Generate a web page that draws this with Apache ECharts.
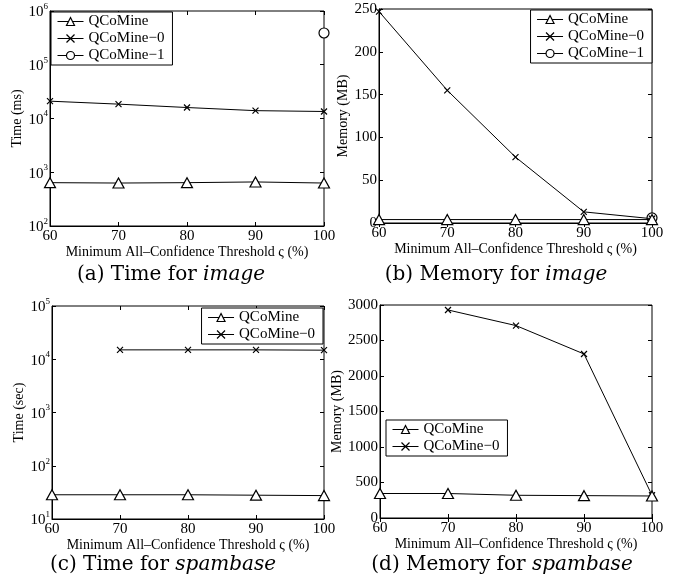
<!DOCTYPE html>
<html>
<head>
<meta charset="utf-8">
<script src="https://cdn.jsdelivr.net/npm/echarts@6/dist/echarts.min.js"></script>
<style>
  html, body { margin: 0; padding: 0; background: #fff; }
  #chart { width: 683px; height: 583px; }
</style>
</head>
<body>
<div id="chart"></div>
<script>
var thresholds = [60, 70, 80, 90, 100];
var seriesNames = ['QCoMine', 'QCoMine\u22120', 'QCoMine\u22121'];

// (a) time for image, ms
var timeImageQ = [640, 630, 640, 660, 630];
var timeImageQ0 = [21000, 18500, 16000, 14000, 13500];
var timeImageQ1 = [null, null, null, null, 390000];
// (b) memory for image, MB
var memImageQ = [4, 4, 4, 4, 4];
var memImageQ0 = [247, 155, 77, 13, 5];
var memImageQ1 = [null, null, null, null, 6];
// (c) time for spambase, sec
var timeSpamQ = [28.5, 28.5, 28.5, 28, 27.5];
var timeSpamQ0 = [null, 15000, 15000, 15000, 14800];
// (d) memory for spambase, MB
var memSpamQ = [345, 345, 320, 315, 310];
var memSpamQ0 = [null, 2930, 2710, 2310, 320];

var serif = 'Liberation Serif';
var xName = 'Minimum All\u2013Confidence Threshold \u03c2 (%)';

// matlab-like markers: hollow triangle, x, hollow circle
var triPath = 'path://M5,0L10,9L0,9Z';
var crossPath = 'path://M0,0L10,10M10,0L0,10';
var symbols = [triPath, crossPath, 'circle'];
var symbolSizes = [[11, 10], 6, 10];

function pairs(vals) {
  var out = [];
  vals.forEach(function (v, i) { if (v != null) out.push([thresholds[i], v]); });
  return out;
}

var grids = [
  { left: 50, top: 11, width: 274, height: 215 },
  { left: 379, top: 9, width: 273, height: 214 },
  { left: 52, top: 306, width: 272, height: 213 },
  { left: 380, top: 305, width: 272, height: 213 }
];

var tickLabel = { color: '#000', fontFamily: serif, fontSize: 15, formatter: function (v) { return String(v); } };
var logRich = {
  b: { fontFamily: serif, fontSize: 15, color: '#000', verticalAlign: 'bottom', lineHeight: 18 },
  e: { fontFamily: serif, fontSize: 9, color: '#000', verticalAlign: 'top', lineHeight: 18 }
};
function logFmt(v) {
  return '{b|10}{e|' + Math.round(Math.log10(v)) + '}';
}

var xAxes = [], yAxes = [];
grids.forEach(function (g, i) {
  xAxes.push({
    type: 'value', gridIndex: i, min: 60, max: 100, interval: 10,
    name: xName, nameLocation: 'middle', nameGap: 17,
    nameTextStyle: { fontFamily: serif, fontSize: 14, color: '#000' },
    axisLine: { lineStyle: { color: '#000' } },
    axisTick: { inside: true, length: 4, lineStyle: { color: '#000' } },
    axisLabel: Object.assign({ margin: 3 }, tickLabel),
    splitLine: { show: false }
  });
  xAxes.push({
    type: 'value', gridIndex: i, position: 'top', min: 60, max: 100, interval: 10,
    axisLine: { show: false },
    axisTick: { inside: true, length: 4, lineStyle: { color: '#000' } },
    axisLabel: { show: false }, splitLine: { show: false }
  });
});

var yDefs = [
  { type: 'log', min: 100, max: 1000000, name: 'Time (ms)', gap: 26 },
  { type: 'value', min: 0, max: 250, interval: 50, name: 'Memory (MB)', gap: 29 },
  { type: 'log', min: 10, max: 100000, name: 'Time (sec)', gap: 26 },
  { type: 'value', min: 0, max: 3000, interval: 500, name: 'Memory (MB)', gap: 36 }
];
yDefs.forEach(function (d, i) {
  var base = {
    type: d.type, gridIndex: i, min: d.min, max: d.max,
    splitLine: { show: false },
    axisTick: { inside: true, length: 4, lineStyle: { color: '#000' } }
  };
  if (d.type === 'log') base.logBase = 10; else base.interval = d.interval;
  var left = Object.assign({}, base, {
    name: d.name, nameLocation: 'middle', nameGap: d.gap,
    nameTextStyle: { fontFamily: serif, fontSize: 14, color: '#000' },
    axisLine: { show: true, lineStyle: { color: '#000' } },
    axisLabel: d.type === 'log'
      ? { margin: 2, formatter: logFmt, rich: logRich }
      : Object.assign({ margin: 2 }, tickLabel)
  });
  var right = Object.assign({}, base, {
    position: 'right', axisLine: { show: false }, axisLabel: { show: false }
  });
  yAxes.push(left, right);
});

function mk(idx, gridIdx, vals) {
  return {
    type: 'line', name: seriesNames[idx],
    xAxisIndex: gridIdx * 2, yAxisIndex: gridIdx * 2,
    data: pairs(vals),
    symbol: symbols[idx], symbolSize: symbolSizes[idx],
    showAllSymbol: true,
    lineStyle: { color: '#000', width: 1 },
    itemStyle: { color: '#fff', borderColor: '#000', borderWidth: 1.2 },
    emphasis: { disabled: true },
    z: 3 - idx
  };
}

var series = [
  mk(0, 0, timeImageQ), mk(1, 0, timeImageQ0), mk(2, 0, timeImageQ1),
  mk(0, 1, memImageQ), mk(1, 1, memImageQ0), mk(2, 1, memImageQ1),
  mk(0, 2, timeSpamQ), mk(1, 2, timeSpamQ0),
  mk(0, 3, memSpamQ), mk(1, 3, memSpamQ0)
];

var legendBase = {
  orient: 'vertical', backgroundColor: '#fff', borderColor: '#000', borderWidth: 1,
  padding: [2, 8, 2, 6], itemGap: 2, itemWidth: 26, itemHeight: 10,
  textStyle: { fontFamily: serif, fontSize: 15, color: '#000' },
  itemStyle: { borderWidth: 1.2 },
  lineStyle: { width: 1 },
  selectedMode: false
};
var legends = [
  Object.assign({}, legendBase, { left: 51, top: 12, data: seriesNames }),
  Object.assign({}, legendBase, { right: 31, top: 10, data: seriesNames }),
  Object.assign({}, legendBase, { right: 360, top: 308, data: seriesNames.slice(0, 2) }),
  Object.assign({}, legendBase, { left: 386, top: 420, data: seriesNames.slice(0, 2) })
];

var captions = [
  { x: 171, y: 265, a: '(a) Time for ', b: 'image' },
  { x: 496, y: 265, a: '(b) Memory for ', b: 'image' },
  { x: 163, y: 555, a: '(c) Time for ', b: 'spambase' },
  { x: 502, y: 555, a: '(d) Memory for ', b: 'spambase' }
];
var capFont = 'DejaVu Serif';
var graphic = captions.map(function (c) {
  return {
    type: 'text', x: c.x, y: c.y,
    style: {
      text: '{r|' + c.a + '}{i|' + c.b + '}',
      textAlign: 'center',
      rich: {
        r: { fontFamily: capFont, fontSize: 20, fill: '#000' },
        i: { fontFamily: capFont, fontSize: 20, fontStyle: 'italic', fill: '#000' }
      }
    }
  };
});

var chart = echarts.init(document.getElementById('chart'), null, { renderer: 'canvas' });
chart.setOption({
  animation: false,
  backgroundColor: '#fff',
  grid: grids.map(function (g) {
    return Object.assign({ show: true, borderColor: '#000', borderWidth: 1, backgroundColor: '#fff' }, g);
  }),
  xAxis: xAxes,
  yAxis: yAxes,
  legend: legends,
  series: series,
  graphic: graphic
});
</script>
</body>
</html>
